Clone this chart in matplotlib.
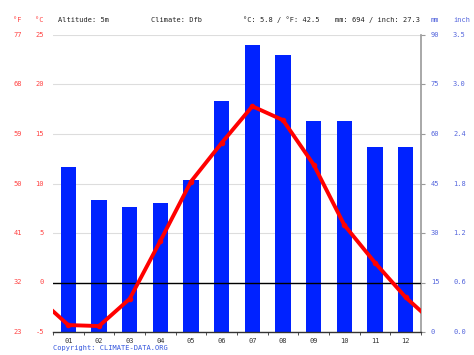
import matplotlib
matplotlib.use("Agg")
import matplotlib.pyplot as plt

# climate data
months = ["01", "02", "03", "04", "05", "06", "07", "08", "09", "10", "11", "12"]
precip_mm = [50, 40, 38, 39, 46, 70, 87, 84, 64, 64, 56, 56]
temp_c = [-4.3, -4.4, -1.65, 4.2, 10.2, 14.1, 17.8, 16.4, 11.9, 5.8, 2.0, -1.5]

c_ticks = [-5, 0, 5, 10, 15, 20, 25]
f_labels = ["23", "32", "41", "50", "59", "68", "77"]
mm_ticks = [0, 15, 30, 45, 60, 75, 90]
inch_labels = ["0.0", "0.6", "1.2", "1.8", "2.4", "3.0", "3.5"]

header = [("Altitude: 5m", 58), ("Climate: Dfb", 151),
          ("°C: 5.8 / °F: 42.5", 243), ("mm: 694 / inch: 27.3", 335)]

FONT = "DejaVu Sans Mono"
FS = 5
RED_TXT = "#ff4444"
BLUE_TXT = "#5566dd"
W, H = 474, 355

fig = plt.figure(figsize=(W / 100, H / 100), dpi=100)
ax = fig.add_axes([53 / W, 1 - 332 / H, 368 / W, 297 / H])
ax2 = ax.twinx()
ax.set_zorder(ax2.get_zorder() + 1)
ax.patch.set_visible(False)

x = list(range(1, 13))

# precipitation bars + grid on the mm axis
ax2.bar(x, precip_mm, width=0.5, color="#0022ff", zorder=2)
ax2.set_ylim(0, 90)
ax2.set_yticks(mm_ticks)
ax2.set_yticklabels([])
ax2.grid(axis="y", color="#dddddd", linewidth=0.8)
ax2.set_axisbelow(True)
ax2.tick_params(axis="y", length=3, color="#999999", width=0.8)
for s in ["top", "left", "bottom"]:
    ax2.spines[s].set_visible(False)
ax2.spines["right"].set_color("#999999")
ax2.spines["right"].set_linewidth(1.2)

# temperature line, wrapped to the edges
edge = (temp_c[0] + temp_c[-1]) / 2
ax.plot([0.5] + x + [12.5], [edge] + temp_c + [edge], color="#ff0000",
        linewidth=2.8, zorder=5, solid_joinstyle="round")
ax.plot(x, temp_c, "o", color="#ff0000", markersize=3, zorder=5)
ax.axhline(0, color="black", linewidth=1, zorder=3)
ax.set_xlim(0.5, 12.5)
ax.set_ylim(-5, 25)
ax.set_yticks([])
for s in ["top", "left", "right"]:
    ax.spines[s].set_visible(False)
ax.spines["bottom"].set_color("#333333")
ax.spines["bottom"].set_linewidth(1)

ax.set_xticks(x)
ax.set_xticklabels(months, fontsize=FS, family=FONT, color="#333333")
ax.set_xticks([i + 0.5 for i in range(0, 13)], minor=True)
ax.tick_params(axis="x", which="major", length=0, pad=4)
ax.tick_params(axis="x", which="minor", length=2, color="#333333")

# side labels
ty = ax.get_yaxis_transform()
for c, f in zip(c_ticks, f_labels):
    ax.text(-0.084, c, f, transform=ty, ha="right", va="center",
            fontsize=FS, family=FONT, color=RED_TXT)
    ax.text(-0.025, c, str(c), transform=ty, ha="right", va="center",
            fontsize=FS, family=FONT, color=RED_TXT)
ty2 = ax2.get_yaxis_transform()
for m, inch in zip(mm_ticks, inch_labels):
    ax2.text(1.027, m, str(m), transform=ty2, ha="left", va="center",
             fontsize=FS, family=FONT, color=BLUE_TXT)
    ax2.text(1.087, m, inch, transform=ty2, ha="left", va="center",
             fontsize=FS, family=FONT, color=BLUE_TXT)

# header row
hy = 1 - 20 / H
fig.text(22 / W, hy, "°F", ha="right", va="center", fontsize=FS, family=FONT, color=RED_TXT)
fig.text(44 / W, hy, "°C", ha="right", va="center", fontsize=FS, family=FONT, color=RED_TXT)
for txt, px in header:
    fig.text(px / W, hy, txt, ha="left", va="center", fontsize=FS, family=FONT, color="#222222")
fig.text(431 / W, hy, "mm", ha="left", va="center", fontsize=FS, family=FONT, color=BLUE_TXT)
fig.text(453 / W, hy, "inch", ha="left", va="center", fontsize=FS, family=FONT, color=BLUE_TXT)

fig.text(53 / W, 1 - 348 / H, "Copyright: CLIMATE-DATA.ORG", ha="left", va="center",
         fontsize=FS, family=FONT, color="#3355dd")

fig.savefig("out.png", dpi=100)
